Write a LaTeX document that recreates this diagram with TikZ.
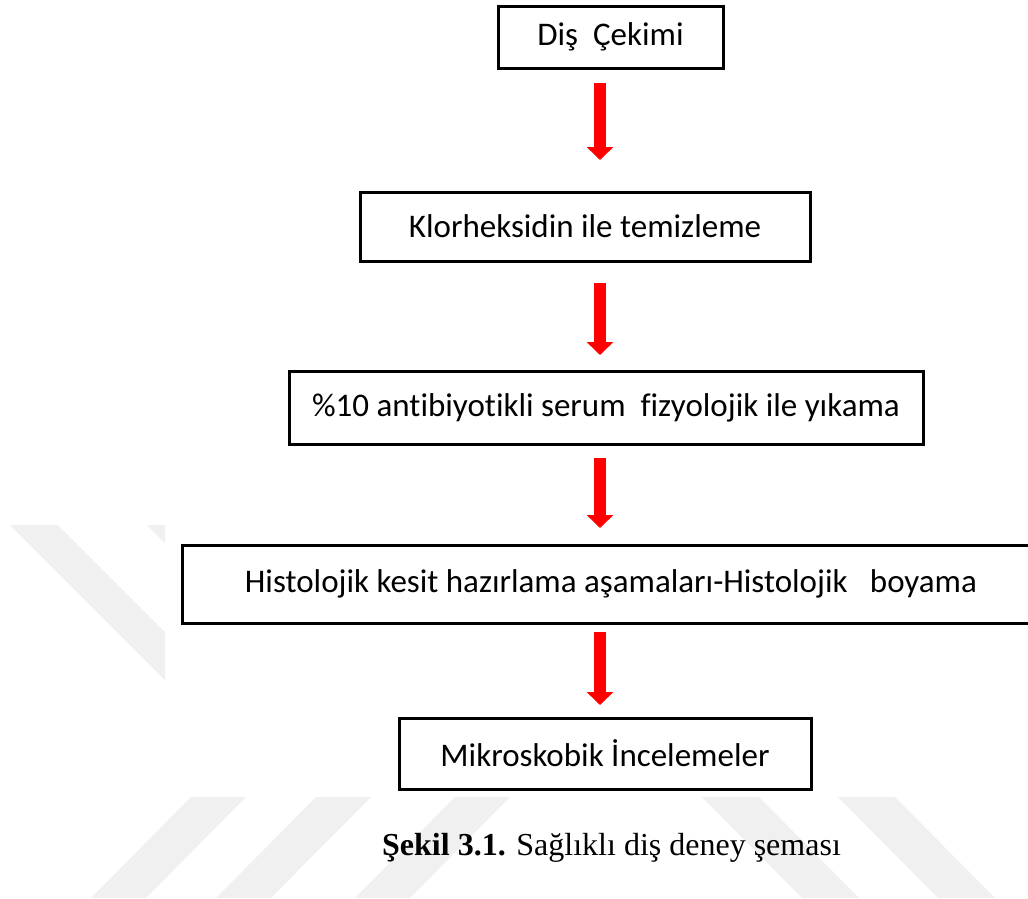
\documentclass[tikz,border=0pt]{standalone}
\usepackage{fontspec}
\setmainfont{Liberation Serif}
\newfontfamily\boxfont{Carlito}[Ligatures=NoCommon]
\usetikzlibrary{arrows.meta,positioning}
\definecolor{flowred}{RGB}{255,0,0}
\definecolor{wmgray}{RGB}{240,240,240}

\begin{document}
\begin{tikzpicture}[x=1pt,y=-1pt,
  stepbox/.style={draw,line width=3pt,outer sep=0pt,inner sep=0pt,
                  font=\boxfont\fontsize{33}{40}\selectfont},
  flow/.style={flowred,line width=12pt,-{Triangle[width=26pt,length=13pt]}},
  wm/.style={fill=wmgray,draw=none}
]
  \useasboundingbox (0,0) rectangle (1028,898);

  % faint background watermark
  \begin{scope}
    \clip (0,0) rectangle (165,898) (165,797) rectangle (1028,898);
    \fill[wm] (10,525) -- (58,525) -- (258,725) -- (210,725) -- cycle;
    \fill[wm] (147,525) -- (195,525) -- (395,725) -- (347,725) -- cycle;
    \foreach \xs in {191,316,455}
      \fill[wm] (\xs,797) -- (\xs+55,797) -- (\xs-45,898) -- (\xs-100,898) -- cycle;
    \foreach \xs in {702,838}
      \fill[wm] (\xs,797) -- (\xs+57,797) -- (\xs+157,898) -- (\xs+100,898) -- cycle;
  \end{scope}

  % steps
  \node[stepbox,minimum width=225,minimum height=62] (dis) at (610.5,37) {Diş\ \ Çekimi};
  \node[stepbox,minimum width=450,minimum height=69] (klor) at (585,226.5) {Klorheksidin ile temizleme};
  \node[stepbox,minimum width=634,minimum height=73] (yik) at (606,407.5) {\%10 antibiyotikli serum\ \ fizyolojik ile yıkama};
  \node[stepbox,minimum width=858,minimum height=78] (hist) at (611,584) {Histolojik kesit hazırlama aşamaları-Histolojik\ \ \ boyama};
  \node[stepbox,minimum width=412,minimum height=71] (mik) at (605,753.5) {Mikroskobik İncelemeler};

  % red arrows
  \coordinate (ax) at (600,0);
  \draw[flow,shorten <=15,shorten >=32] (dis.south -| ax) -- (klor.north -| ax);
  \draw[flow,shorten <=22,shorten >=16] (klor.south -| ax) -- (yik.north -| ax);
  \draw[flow,shorten <=14,shorten >=17] (yik.south -| ax) -- (hist.north -| ax);
  \draw[flow,shorten <=9,shorten >=13] (hist.south -| ax) -- (mik.north -| ax);

  % caption
  \node[anchor=base west,inner sep=0pt,font=\fontsize{32}{38}\selectfont] (cap) at (382,855)
    {\textbf{Şekil 3.1.} Sağlıklı diş deney şeması};
\end{tikzpicture}
\end{document}
